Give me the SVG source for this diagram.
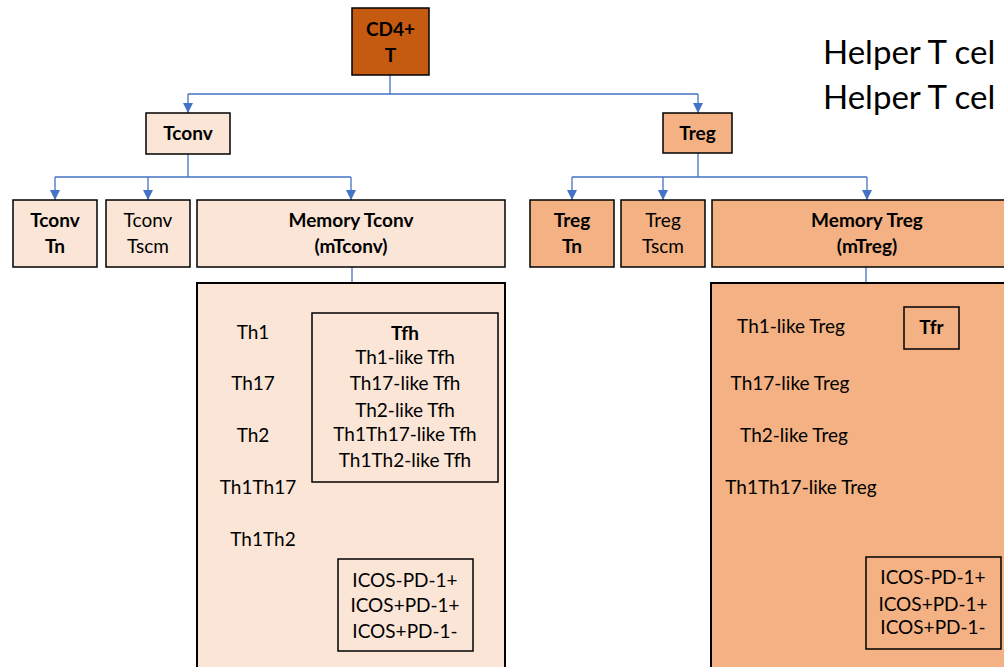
<svg xmlns="http://www.w3.org/2000/svg" width="1004" height="667" viewBox="0 0 1004 667">
<defs>
<marker id="ah" viewBox="0 0 10 10" refX="10" refY="5" markerWidth="10" markerHeight="10" markerUnits="userSpaceOnUse" orient="auto">
<path d="M0,0 L10,5 L0,10 z" fill="#4472C4"/>
</marker>
</defs>
<style>
text{font-family:Lato,"Open Sans","Liberation Sans",sans-serif;font-size:19px;fill:#000;text-anchor:middle}
.b{font-weight:bold}
.box{stroke:#000;stroke-width:1.5}
.lt{fill:#FBE5D6}
.md{fill:#F4B183}
.dk{fill:#C55A11}
.c{fill:none;stroke:#4472C4;stroke-width:1.3}
.d{fill:none;stroke:#4472C4;stroke-width:1;stroke-dasharray:4 3}
.big{font-size:33px;text-anchor:start}
</style>
<rect width="1004" height="667" fill="#fff"/>
<g id="connectors">
<path class="c" d="M390,75 V94 M188,94 H698"/>
<path class="c" d="M188,94 V113" marker-end="url(#ah)"/>
<path class="c" d="M698,94 V113" marker-end="url(#ah)"/>
<path class="c" d="M188,154 V177 M55,177 H351"/>
<path class="c" d="M55,177 V200" marker-end="url(#ah)"/>
<path class="c" d="M148,177 V200" marker-end="url(#ah)"/>
<path class="c" d="M351,177 V200" marker-end="url(#ah)"/>
<path class="c" d="M698,153 V177 M572,177 H867"/>
<path class="c" d="M572,177 V200" marker-end="url(#ah)"/>
<path class="c" d="M663,177 V200" marker-end="url(#ah)"/>
<path class="c" d="M867,177 V200" marker-end="url(#ah)"/>
<path class="c" d="M352,267 V283"/>
<path class="c" d="M866,267 V283"/>
<path class="d" d="M405,482 V559"/>
<path class="d" d="M932,349 V557"/>
</g>
<g id="cd4">
<rect class="box dk" x="352" y="8" width="77" height="67"/>
<text class="b" x="390.5" y="36">CD4+</text>
<text class="b" x="390.5" y="62">T</text>
</g>
<g id="title">
<text class="big" x="823" y="64">Helper T cel</text>
<text class="big" x="823" y="109">Helper T cel</text>
</g>
<g id="tconv">
<rect class="box lt" x="146" y="113" width="84" height="41"/>
<text class="b" x="188" y="140">Tconv</text>
</g>
<g id="treg">
<rect class="box md" x="663" y="113" width="69" height="40"/>
<text class="b" x="697.5" y="140">Treg</text>
</g>
<g id="tconv-tn">
<rect class="box lt" x="13" y="200" width="84" height="67"/>
<text class="b" x="55" y="227">Tconv</text>
<text class="b" x="55" y="253">Tn</text>
</g>
<g id="tconv-tscm">
<rect class="box lt" x="106" y="200" width="84" height="67"/>
<text x="148" y="227">Tconv</text>
<text x="148" y="253">Tscm</text>
</g>
<g id="mtconv">
<rect class="box lt" x="197" y="200" width="308" height="67"/>
<text class="b" x="351" y="227">Memory Tconv</text>
<text class="b" x="351" y="253">(mTconv)</text>
</g>
<g id="treg-tn">
<rect class="box md" x="530" y="200" width="84" height="67"/>
<text class="b" x="572" y="227">Treg</text>
<text class="b" x="572" y="253">Tn</text>
</g>
<g id="treg-tscm">
<rect class="box md" x="621" y="200" width="84" height="67"/>
<text x="663" y="227">Treg</text>
<text x="663" y="253">Tscm</text>
</g>
<g id="mtreg">
<rect class="box md" x="712" y="200" width="310" height="67"/>
<text class="b" x="867" y="227">Memory Treg</text>
<text class="b" x="867" y="253">(mTreg)</text>
</g>
<g id="mtconv-detail">
<rect class="lt" x="197" y="283" width="308" height="400" stroke="#000" stroke-width="2"/>
<text x="253" y="339">Th1</text>
<text x="253" y="390">Th17</text>
<text x="253" y="442">Th2</text>
<text x="258" y="494">Th1Th17</text>
<text x="263" y="546">Th1Th2</text>
</g>
<g id="tfh">
<rect class="box lt" x="312" y="313" width="186" height="169"/>
<text class="b" x="405" y="340">Tfh</text>
<text x="405" y="364">Th1-like Tfh</text>
<text x="405" y="390">Th17-like Tfh</text>
<text x="405" y="417">Th2-like Tfh</text>
<text x="405" y="441">Th1Th17-like Tfh</text>
<text x="405" y="467">Th1Th2-like Tfh</text>
</g>
<g id="icos-tconv">
<rect class="box lt" x="338" y="559" width="135" height="92"/>
<text x="405" y="587">ICOS-PD-1+</text>
<text x="405" y="612">ICOS+PD-1+</text>
<text x="405" y="638">ICOS+PD-1-</text>
</g>
<g id="mtreg-detail">
<rect class="md" x="711" y="283" width="320" height="400" stroke="#000" stroke-width="2"/>
<text x="791" y="333">Th1-like Treg</text>
<text x="790" y="390">Th17-like Treg</text>
<text x="794" y="442">Th2-like Treg</text>
<text x="801" y="494">Th1Th17-like Treg</text>
</g>
<g id="tfr">
<rect class="box md" x="904" y="307" width="55" height="42"/>
<text class="b" x="931.5" y="334">Tfr</text>
</g>
<g id="icos-treg">
<rect class="box md" x="866" y="557" width="135" height="92"/>
<text x="933" y="584">ICOS-PD-1+</text>
<text x="933" y="611">ICOS+PD-1+</text>
<text x="933" y="634">ICOS+PD-1-</text>
</g>
</svg>
